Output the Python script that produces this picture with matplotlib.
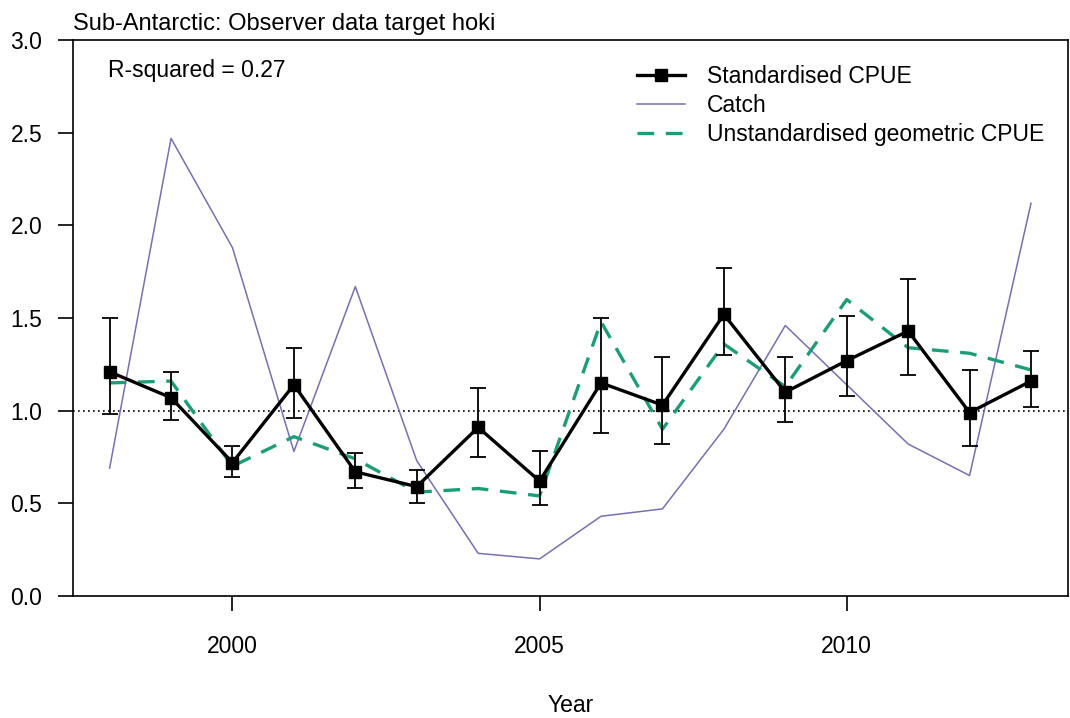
import numpy as np
import matplotlib.pyplot as plt

plt.rcParams['font.family'] = ['Liberation Sans', 'DejaVu Sans']

years = np.arange(1998, 2014)
std_cpue = [1.21, 1.07, 0.72, 1.14, 0.67, 0.59, 0.91, 0.62,
            1.15, 1.03, 1.52, 1.10, 1.27, 1.43, 0.99, 1.16]
upper_ci = [1.50, 1.21, 0.81, 1.34, 0.77, 0.68, 1.12, 0.78,
            1.50, 1.29, 1.77, 1.29, 1.51, 1.71, 1.22, 1.32]
lower_ci = [0.98, 0.95, 0.64, 0.96, 0.585, 0.50, 0.75, 0.49,
            0.88, 0.82, 1.30, 0.94, 1.08, 1.19, 0.81, 1.02]
catch = [0.69, 2.47, 1.88, 0.78, 1.67, 0.73, 0.23, 0.20,
         0.43, 0.47, 0.90, 1.46, 1.14, 0.82, 0.65, 2.12]
unstd_cpue = [1.15, 1.16, 0.70, 0.86, 0.74, 0.56, 0.58, 0.54,
              1.48, 0.90, 1.36, 1.13, 1.60, 1.34, 1.31, 1.22]

fs = 16.5

fig = plt.figure(figsize=(10.7, 7.18), dpi=100)
ax = fig.add_axes([0.068, 0.170, 0.930, 0.774])

std = np.array(std_cpue)
yerr = [std - np.array(lower_ci), np.array(upper_ci) - std]

ax.axhline(1.0, color='black', lw=1.2, ls=(0, (1, 2)), zorder=1)
ax.plot(years, catch, color='#7570B3', lw=1.1, label='Catch', zorder=2)
ax.plot(years, unstd_cpue, color='#1B9E77', lw=2.4, ls=(0, (5, 3.5)),
        label='Unstandardised geometric CPUE', zorder=3)
ax.errorbar(years, std, yerr=yerr, fmt='none', ecolor='black',
            elinewidth=1.3, capsize=5.5, capthick=1.3, zorder=4)
ax.plot(years, std, color='black', lw=2.4, marker='s', markersize=8,
        label='Standardised CPUE', zorder=5)

ax.set_xlim(1997.4, 2013.6)
ax.set_ylim(0, 3.0)
ax.set_xticks([2000, 2005, 2010])
ax.set_yticks(np.arange(0, 3.01, 0.5))
ax.set_yticklabels([f'{v:.1f}' for v in np.arange(0, 3.01, 0.5)])
ax.tick_params(direction='out', length=11, width=1.2, labelsize=fs)
ax.tick_params(axis='x', pad=17)
ax.tick_params(axis='y', pad=11)
for s in ax.spines.values():
    s.set_linewidth(1.2)

ax.set_xlabel('Year', fontsize=fs, labelpad=26)
ax.set_title('Sub-Antarctic: Observer data target hoki', loc='left',
             fontsize=17, pad=7)
ax.text(0.035, 0.946, 'R-squared = 0.27', transform=ax.transAxes,
        fontsize=fs, va='center', ha='left')

h, l = ax.get_legend_handles_labels()
order = [2, 0, 1]
ax.legend([h[i] for i in order], [l[i] for i in order], loc='upper left',
          bbox_to_anchor=(0.567, 0.955), frameon=False, fontsize=fs,
          handlelength=2.1, borderpad=0, borderaxespad=0,
          labelspacing=0.25, handletextpad=0.95)

fig.savefig('out.png', dpi=100)
